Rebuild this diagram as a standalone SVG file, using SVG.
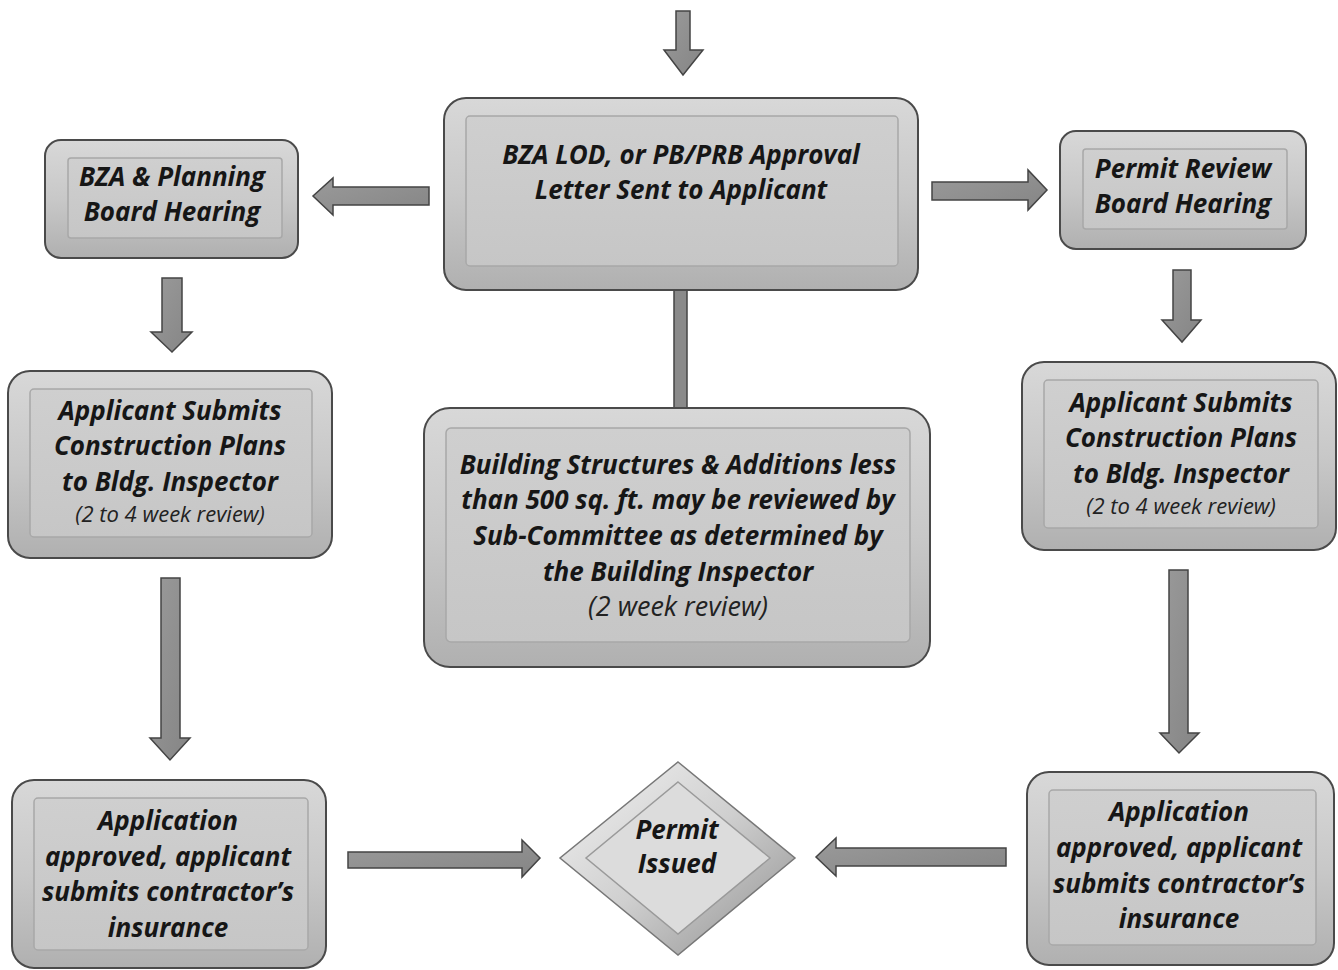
<svg xmlns="http://www.w3.org/2000/svg" width="1338" height="970" viewBox="0 0 1338 970">
<defs>
<linearGradient id="gOuter" x1="0" y1="0" x2="0" y2="1">
<stop offset="0" stop-color="#d8d8d8"/>
<stop offset="0.5" stop-color="#c8c8c8"/>
<stop offset="1" stop-color="#b0b0b0"/>
</linearGradient>
<linearGradient id="gInner" x1="0" y1="0" x2="0" y2="1">
<stop offset="0" stop-color="#cfcfcf"/>
<stop offset="1" stop-color="#c6c6c6"/>
</linearGradient>
<linearGradient id="gDia" x1="0" y1="0" x2="1" y2="1">
<stop offset="0" stop-color="#f2f2f2"/>
<stop offset="0.5" stop-color="#cfcfcf"/>
<stop offset="1" stop-color="#8f8f8f"/>
</linearGradient>
<linearGradient id="gArrow" x1="0" y1="0" x2="1" y2="1">
<stop offset="0" stop-color="#9a9a9a"/>
<stop offset="1" stop-color="#858585"/>
</linearGradient>
</defs>
<style>
.outer{fill:url(#gOuter);stroke:#4a4a4a;stroke-width:2}
.inner{fill:url(#gInner);stroke:#a8a8a8;stroke-width:1.5}
.arr{fill:url(#gArrow);stroke:#444;stroke-width:1.5;stroke-linejoin:miter}
.t{font-family:"Open Sans","Liberation Sans",sans-serif;font-weight:bold;font-style:italic;font-size:26px;fill:#161616;text-anchor:middle}
.s{font-family:"Open Sans","Liberation Sans",sans-serif;font-style:italic;font-size:22px;fill:#222;text-anchor:middle}
.m{font-family:"Open Sans","Liberation Sans",sans-serif;font-style:italic;font-size:27px;fill:#222;text-anchor:middle}
</style>
<rect width="1338" height="970" fill="#ffffff"/>

<g id="connectors">
<rect x="674" y="289" width="13" height="120" fill="#8a8a8a" stroke="#444" stroke-width="1.5"/>
<polygon class="arr" points="676,11 690,11 690,50 703,50 683,75 664,50 676,50"/>
<polygon class="arr" points="429,187 333,187 333,178 313,196 333,215 333,205 429,205"/>
<polygon class="arr" points="932,182 1028,182 1028,170 1047,190 1028,210 1028,200 932,200"/>
<polygon class="arr" points="162,278 182,278 182,332 192,332 172,352 151,332 162,332"/>
<polygon class="arr" points="161,578 180,578 180,738 190,738 170,760 150,738 161,738"/>
<polygon class="arr" points="1173,270 1191,270 1191,320 1201,320 1182,342 1162,320 1173,320"/>
<polygon class="arr" points="1169,570 1188,570 1188,733 1199,733 1179,753 1160,733 1169,733"/>
<polygon class="arr" points="348,852 522,852 522,840 540,858 522,877 522,868 348,868"/>
<polygon class="arr" points="1006,848 836,848 836,838 816,857 836,876 836,866 1006,866"/>
</g>

<g id="n-bza-planning">
<rect class="outer" x="45" y="140" width="253" height="118" rx="16"/>
<rect class="inner" x="68" y="158" width="214" height="80" rx="3"/>
<text class="t" x="172" y="186">BZA &amp; Planning</text>
<text class="t" x="172" y="221">Board Hearing</text>
</g>

<g id="n-approval-letter">
<rect class="outer" x="444" y="98" width="474" height="192" rx="22"/>
<rect class="inner" x="466" y="116" width="432" height="150" rx="4"/>
<text class="t" x="681" y="164">BZA LOD, or PB/PRB Approval</text>
<text class="t" x="681" y="199">Letter Sent to Applicant</text>
</g>

<g id="n-permit-review">
<rect class="outer" x="1060" y="131" width="246" height="118" rx="16"/>
<rect class="inner" x="1083" y="149" width="204" height="80" rx="3"/>
<text class="t" x="1183" y="178">Permit Review</text>
<text class="t" x="1183" y="213">Board Hearing</text>
</g>

<g id="n-left-submits">
<rect class="outer" x="8" y="371" width="324" height="187" rx="22"/>
<rect class="inner" x="30" y="389" width="282" height="148" rx="4"/>
<text class="t" x="170" y="420">Applicant Submits</text>
<text class="t" x="170" y="455">Construction Plans</text>
<text class="t" x="170" y="491">to Bldg. Inspector</text>
<text class="s" x="170" y="522">(2 to 4 week review)</text>
</g>

<g id="n-subcommittee">
<rect class="outer" x="424" y="408" width="506" height="259" rx="26"/>
<rect class="inner" x="446" y="428" width="464" height="214" rx="5"/>
<text class="t" x="678" y="474">Building Structures &amp; Additions less</text>
<text class="t" x="678" y="509">than 500 sq. ft. may be reviewed by</text>
<text class="t" x="678" y="545">Sub-Committee as determined by</text>
<text class="t" x="678" y="581">the Building Inspector</text>
<text class="m" x="678" y="616">(2 week review)</text>
</g>

<g id="n-right-submits">
<rect class="outer" x="1022" y="362" width="314" height="188" rx="22"/>
<rect class="inner" x="1044" y="380" width="274" height="148" rx="4"/>
<text class="t" x="1181" y="412">Applicant Submits</text>
<text class="t" x="1181" y="447">Construction Plans</text>
<text class="t" x="1181" y="483">to Bldg. Inspector</text>
<text class="s" x="1181" y="514">(2 to 4 week review)</text>
</g>

<g id="n-left-approved">
<rect class="outer" x="12" y="780" width="314" height="188" rx="22"/>
<rect class="inner" x="34" y="798" width="274" height="152" rx="4"/>
<text class="t" x="168" y="830">Application</text>
<text class="t" x="168" y="866">approved, applicant</text>
<text class="t" x="168" y="901">submits contractor’s</text>
<text class="t" x="168" y="937">insurance</text>
</g>

<g id="n-permit-issued">
<polygon points="678,762 795,858 678,955 560,858" fill="url(#gDia)" stroke="#777" stroke-width="1.5"/>
<polygon points="678,782 770,858 678,934 586,858" fill="#dcdcdc" stroke="#9a9a9a" stroke-width="1.5"/>
<text class="t" x="677" y="839">Permit</text>
<text class="t" x="677" y="873">Issued</text>
</g>

<g id="n-right-approved">
<rect class="outer" x="1027" y="772" width="307" height="193" rx="22"/>
<rect class="inner" x="1049" y="790" width="267" height="155" rx="4"/>
<text class="t" x="1179" y="821">Application</text>
<text class="t" x="1179" y="857">approved, applicant</text>
<text class="t" x="1179" y="893">submits contractor’s</text>
<text class="t" x="1179" y="928">insurance</text>
</g>
</svg>
